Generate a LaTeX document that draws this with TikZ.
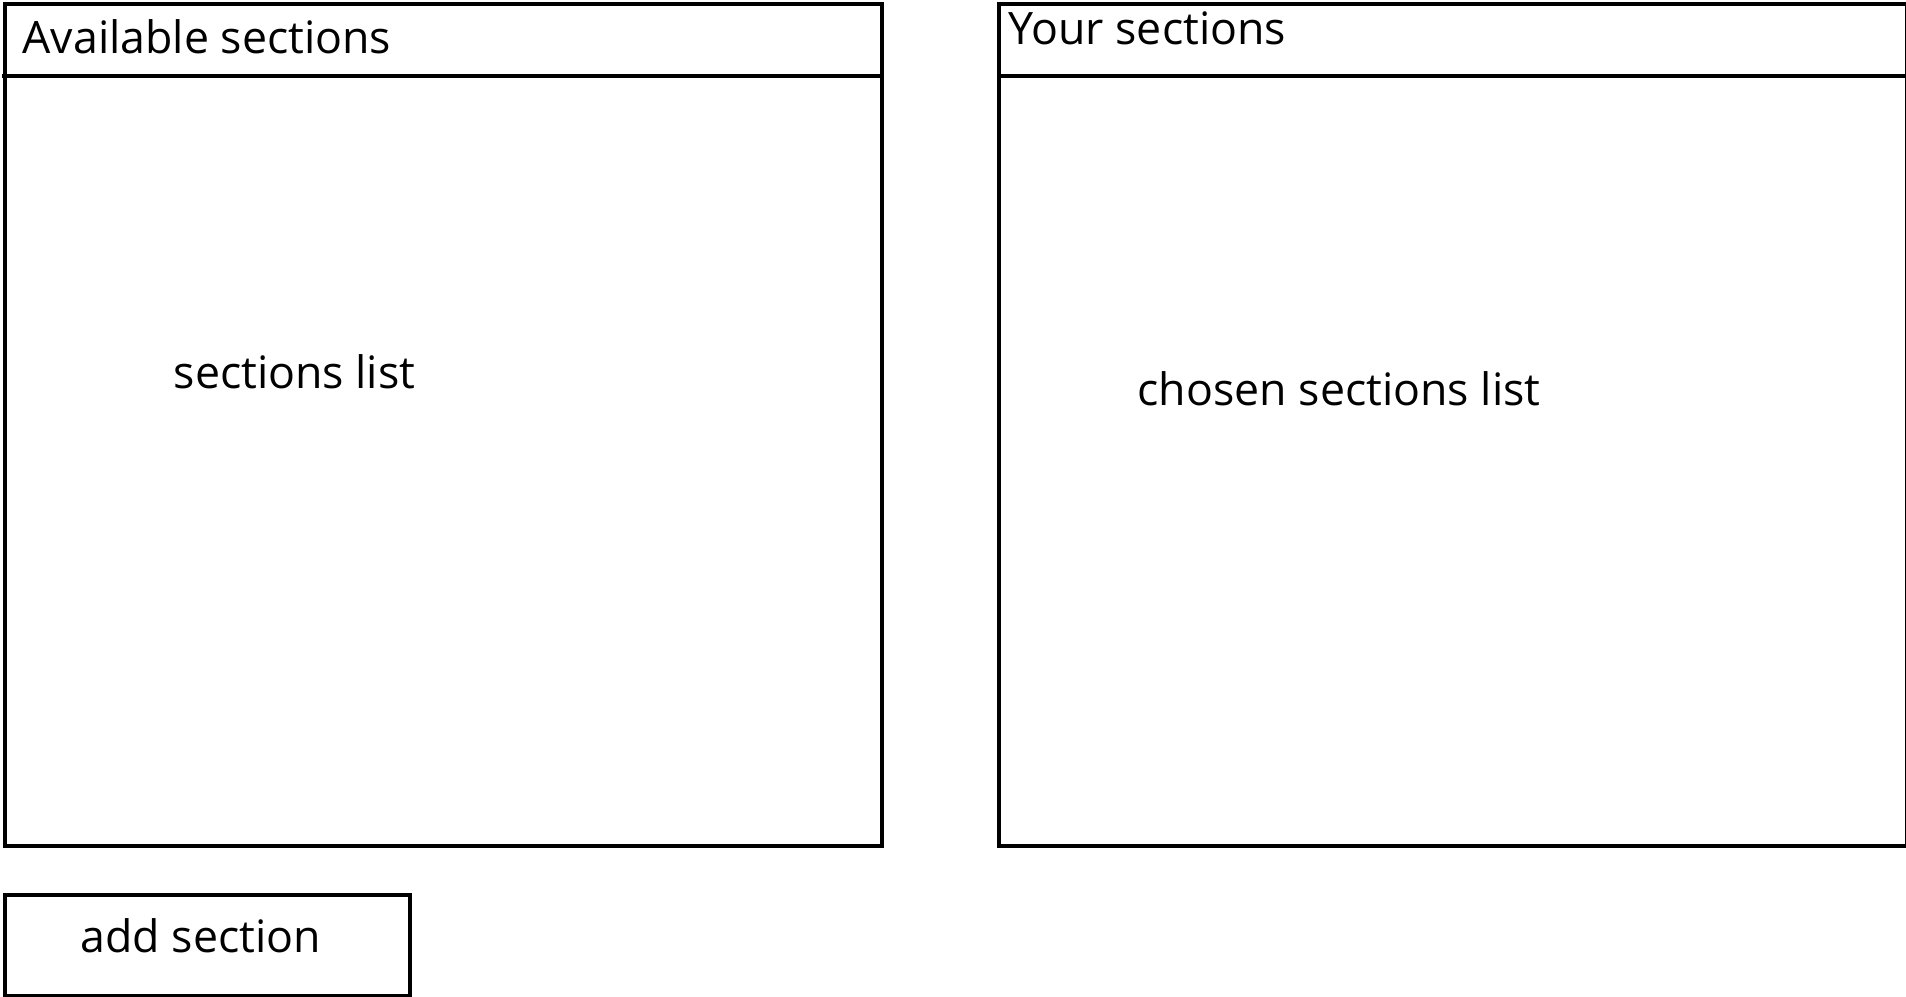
\documentclass[tikz,border=0pt]{standalone}
\usepackage{fontspec}
\setmainfont{Open Sans}
\usetikzlibrary{positioning}

\begin{document}
\begin{tikzpicture}[
    x=0.01cm, y=-0.01cm,
    panel/.style={draw=black, line width=1.15pt, inner sep=0pt, anchor=north west},
    headline/.style={draw=black, line width=1.15pt},
    uitext/.style={font=\fontsize{12.7}{15}\selectfont, inner sep=0pt, anchor=base west}
]
\useasboundingbox (0,0) rectangle (1906,996);

% ==================== AVAILABLE SECTIONS ====================
\node[panel, minimum width=8.765cm, minimum height=8.41cm] (avail) at (2.5,2) {};
\draw[headline] ([yshift=-0.735cm]avail.north west) -- ([yshift=-0.735cm]avail.north east);
\node[uitext] (availtitle) at (22,53) {Available sections};
\node[uitext] (availlist) at (173,388) {sections list};

% ==================== YOUR SECTIONS ====================
\node[panel, minimum width=9.07cm, minimum height=8.41cm] (chosen) at (997,2) {};
\draw[headline] ([yshift=-0.735cm]chosen.north west) -- ([yshift=-0.735cm]chosen.north east);
\node[uitext] (chosentitle) at (1008,44) {Your sections};
\node[uitext] (chosenlist) at (1137,405) {chosen sections list};

% Button
\node[panel, minimum width=4.055cm, minimum height=1.01cm] (addbtn) at (2.5,893) {};
\node[uitext] (addlabel) at (80,952) {add section};

\end{tikzpicture}
\end{document}
